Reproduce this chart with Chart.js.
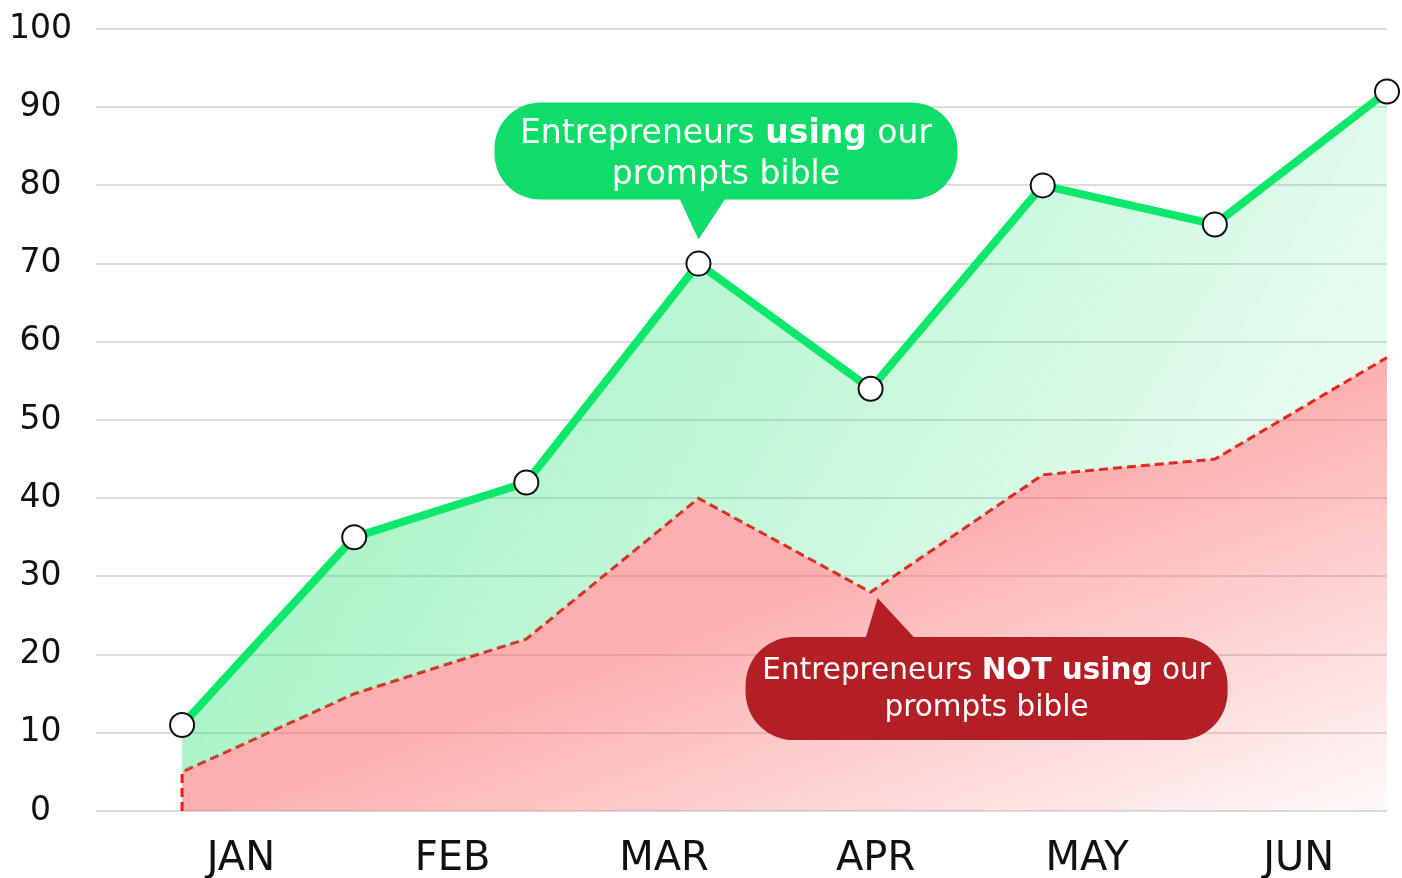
<!DOCTYPE html>
<html>
<head>
<meta charset="utf-8">
<script src="https://cdn.jsdelivr.net/npm/chart.js@4.4.1/dist/chart.umd.min.js"></script>
<style>
  html, body { margin: 0; padding: 0; background: #fff; }
  #wrap { width: 1402px; height: 878px; }
</style>
</head>
<body>
<div id="wrap"><canvas id="myChart"></canvas></div>
<script>
const months = ["JAN", "FEB", "MAR", "APR", "MAY", "JUN"];
const withBible = [11, 35, 42, 70, 54, 80, 75, 92];
const withoutBible = [5, 15, 22, 40, 28, 43, 45, 58];
const greenNote = [[["Entrepreneurs ", false], ["using", true], [" our", false]], [["prompts bible", false]]];
const redNote = [[["Entrepreneurs ", false], ["NOT using", true], [" our", false]], [["prompts bible", false]]];

const FONT = "'DejaVu Sans', sans-serif";

function greenFill(chart) {
  const a = chart.chartArea;
  if (!a) return "rgba(20,225,105,0.3)";
  const g = chart.ctx.createLinearGradient(a.left, a.top, a.right, a.bottom);
  g.addColorStop(0, "rgba(20,225,105,0.5)");
  g.addColorStop(1, "rgba(20,225,105,0.02)");
  return g;
}

// red fades away from the line joining its first and last points, towards the bottom-right corner
function redFill(chart) {
  const a = chart.chartArea;
  if (!a) return "rgba(250,80,80,0.4)";
  const { x, y } = chart.scales;
  const last = withoutBible.length - 1;
  const x0 = x.getPixelForValue(0), y0 = y.getPixelForValue(0);
  const x1 = x.getPixelForValue(last), y1 = y.getPixelForValue(withoutBible[last]);
  let nx = y0 - y1, ny = x1 - x0;
  const len = Math.hypot(nx, ny);
  nx /= len; ny /= len;
  const dist = (a.right - x0) * nx + (a.bottom - y0) * ny;
  const g = chart.ctx.createLinearGradient(x0, y0, x0 + nx * dist, y0 + ny * dist);
  g.addColorStop(0, "rgba(250,85,85,0.47)");
  g.addColorStop(1, "rgba(250,85,85,0.03)");
  return g;
}

function roundRect(ctx, x, y, w, h, r) {
  ctx.beginPath();
  ctx.moveTo(x + r, y);
  ctx.lineTo(x + w - r, y);
  ctx.arcTo(x + w, y, x + w, y + r, r);
  ctx.lineTo(x + w, y + h - r);
  ctx.arcTo(x + w, y + h, x + w - r, y + h, r);
  ctx.lineTo(x + r, y + h);
  ctx.arcTo(x, y + h, x, y + h - r, r);
  ctx.lineTo(x, y + r);
  ctx.arcTo(x, y, x + r, y, r);
  ctx.closePath();
}

function drawLines(ctx, lines, cx, ys, size) {
  ctx.fillStyle = "#fff";
  ctx.textBaseline = "middle";
  ctx.textAlign = "left";
  lines.forEach((parts, i) => {
    let total = 0;
    parts.forEach(([t, b]) => {
      ctx.font = (b ? "bold " : "") + size + "px " + FONT;
      total += ctx.measureText(t).width;
    });
    let x = cx - total / 2;
    parts.forEach(([t, b]) => {
      ctx.font = (b ? "bold " : "") + size + "px " + FONT;
      ctx.fillText(t, x, ys[i]);
      x += ctx.measureText(t).width;
    });
  });
}

const callouts = {
  id: "callouts",
  afterDatasetsDraw(chart) {
    const { ctx, scales: { x, y } } = chart;
    ctx.save();
    // green bubble above MAR point
    let ax = x.getPixelForValue(3), ay = y.getPixelForValue(withBible[3]) - 24;
    let left = ax - 204, top = ay - 137, w = 463, h = 97;
    ctx.fillStyle = "#0fdc69";
    roundRect(ctx, left, top, w, h, 46);
    ctx.fill();
    ctx.beginPath();
    ctx.moveTo(ax - 19, top + h - 1);
    ctx.lineTo(ax + 27, top + h - 1);
    ctx.lineTo(ax, ay);
    ctx.closePath();
    ctx.fill();
    drawLines(ctx, greenNote, left + w / 2, [top + 32, top + 73], 33);

    // red bubble below APR point
    ax = x.getPixelForValue(4) + 7;
    ay = y.getPixelForValue(withoutBible[4]) + 6;
    left = ax - 132; top = ay + 39; w = 482; h = 103;
    ctx.fillStyle = "#b31f24";
    roundRect(ctx, left, top, w, h, 48);
    ctx.fill();
    ctx.beginPath();
    ctx.moveTo(ax - 12, top + 1);
    ctx.lineTo(ax + 37, top + 1);
    ctx.lineTo(ax, ay);
    ctx.closePath();
    ctx.fill();
    drawLines(ctx, redNote, left + w / 2, [top + 34, top + 71], 29.5);
    ctx.restore();
  }
};

const greenData = withBible.map((v, i) => ({ x: i, y: v }));
const redData = [{ x: 0, y: 0 }].concat(withoutBible.map((v, i) => ({ x: i, y: v })));

new Chart(document.getElementById("myChart"), {
  type: "line",
  data: {
    datasets: [
      {
        data: greenData,
        borderColor: "#0ce86a",
        borderWidth: 8,
        pointRadius: 12,
        pointBorderWidth: 2,
        pointBackgroundColor: "#fff",
        pointBorderColor: "#111",
        fill: 1,
        backgroundColor: (c) => greenFill(c.chart),
        clip: false,
      },
      {
        data: redData,
        borderColor: "#f41a1a",
        borderWidth: 3,
        borderDash: [9, 5],
        pointRadius: 0,
        fill: "origin",
        backgroundColor: (c) => redFill(c.chart),
      },
    ],
  },
  options: {
    responsive: true,
    maintainAspectRatio: false,
    animation: false,
    layout: { padding: { top: 29, right: 15, left: 0, bottom: 0 } },
    plugins: {
      legend: { display: false },
      tooltip: { enabled: false },
    },
    scales: {
      x: {
        type: "linear",
        min: -0.5,
        max: 7,
        afterFit: (s) => { s.height = 67; },
        afterBuildTicks: (s) => {
          s.ticks = months.map((m, i) => ({ value: 0.342 + i * 1.229 }));
        },
        ticks: {
          autoSkip: false,
          maxRotation: 0,
          padding: 17,
          color: "#111",
          font: { family: FONT, size: 40 },
          callback: (v, i) => months[i],
        },
        grid: { display: false },
        border: { display: false },
      },
      y: {
        min: 0,
        max: 100,
        afterFit: (s) => {
          s.width = 96;
          s.paddingTop = 0;
          s.paddingBottom = 0;
        },
        ticks: {
          stepSize: 10,
          padding: 24,
          crossAlign: "center",
          color: "#111",
          font: { family: FONT, size: 33 },
        },
        grid: { color: "#dcdcdc", lineWidth: 2, drawTicks: false },
        border: { display: false },
      },
    },
  },
  plugins: [callouts],
});
</script>
</body>
</html>
